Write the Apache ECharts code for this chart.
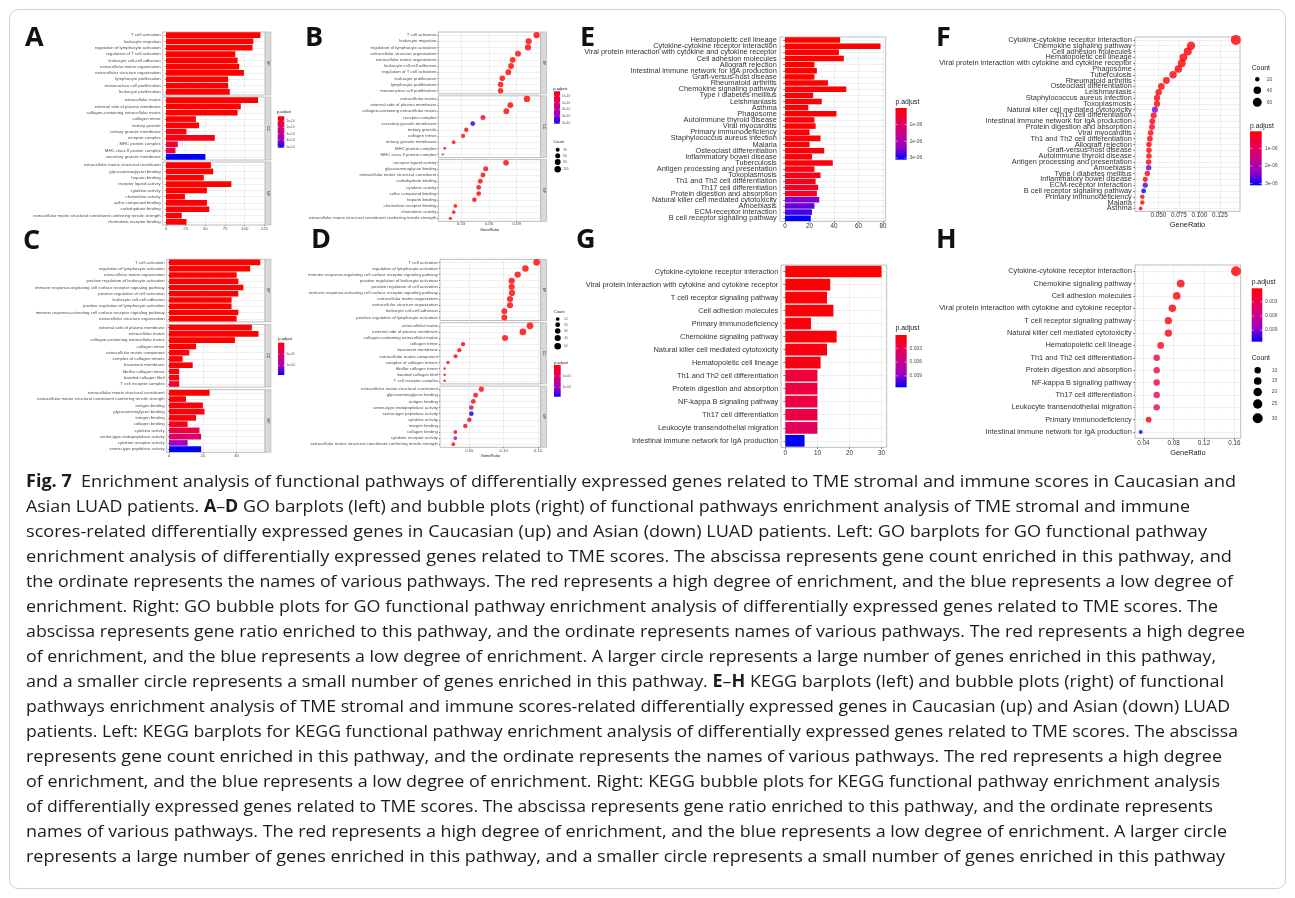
<!DOCTYPE html>
<html>
<head>
<meta charset="utf-8">
<title>Fig. 7 enrichment analysis</title>
<script src="https://cdn.jsdelivr.net/npm/echarts@6/dist/echarts.min.js"></script>
<style>
  html, body { margin: 0; padding: 0; background: #fff; width: 1295px; height: 898px; overflow: hidden; }
  #frame { position: absolute; left: 9px; top: 9px; width: 1277px; height: 880px; border: 1px solid #d2d2d2; border-radius: 9px; box-sizing: border-box; }
  #chart { position: absolute; left: 0; top: 0; width: 1295px; height: 470px; }
  #caption { position: absolute; left: 26px; top: 468px; font-family: "Open Sans", sans-serif; font-size: 17px; line-height: 25px; color: #1e1b1c; }
  #caption div { white-space: nowrap; height: 25px; }
  #caption span { display: inline-block; transform-origin: 0 50%; }
</style>
</head>
<body>
<div id="frame"></div>
<div id="chart"></div>
<div id="caption"></div>
<script>
var FONT = '"Liberation Sans", Arial, Helvetica, sans-serif';
// red -> blue, as ggplot interpolates it
var GRAD = ['#ff0000', '#e80050', '#ca0089', '#9a00c3', '#0000ff'];

// ---------- A: GO barplot, Caucasian ----------
var aBP = ['T cell activation', 'leukocyte migration', 'regulation of lymphocyte activation', 'regulation of T cell activation', 'leukocyte cell-cell adhesion', 'extracellular matrix organization', 'extracellular structure organization', 'lymphocyte proliferation', 'mononuclear cell proliferation', 'leukocyte proliferation'];
var aBPCount = [120, 111, 110, 88, 91, 93, 99, 79, 79, 81];
var aBPPadj = [0.27e-10, 0.27e-10, 0.27e-10, 0.28e-10, 0.28e-10, 0.28e-10, 0.28e-10, 0.29e-10, 0.29e-10, 0.29e-10];
var aCC = ['extracellular matrix', 'external side of plasma membrane', 'collagen-containing extracellular matrix', 'collagen trimer', 'tertiary granule', 'tertiary granule membrane', 'receptor complex', 'MHC protein complex', 'MHC class II protein complex', 'secretory granule membrane'];
var aCCCount = [117, 95, 91, 38, 42, 26, 62, 15, 12, 50];
var aCCPadj = [0.27e-10, 0.27e-10, 0.28e-10, 0.3e-10, 0.32e-10, 0.4e-10, 0.6e-10, 1.0e-10, 1.3e-10, 5.16e-10];
var aMF = ['extracellular matrix structural constituent', 'glycosaminoglycan binding', 'heparin binding', 'receptor ligand activity', 'cytokine activity', 'chemokine activity', 'sulfur compound binding', 'carbohydrate binding', 'extracellular matrix structural constituent conferring tensile strength', 'chemokine receptor binding'];
var aMFCount = [57, 60, 48, 83, 52, 24, 52, 55, 20, 26];
var aMFPadj = [0.28e-10, 0.28e-10, 0.29e-10, 0.29e-10, 0.3e-10, 0.3e-10, 0.31e-10, 0.31e-10, 0.32e-10, 0.33e-10];
var aTicks = [0, 25, 50, 75, 100, 125];

// ---------- B: GO bubble plot, Caucasian ----------
var bBP = ['T cell activation', 'leukocyte migration', 'regulation of lymphocyte activation', 'extracellular structure organization', 'extracellular matrix organization', 'leukocyte cell-cell adhesion', 'regulation of T cell activation', 'leukocyte proliferation', 'lymphocyte proliferation', 'mononuclear cell proliferation'];
var bBPRatio = [0.1115, 0.1029, 0.1022, 0.0914, 0.0857, 0.0839, 0.0810, 0.0745, 0.0727, 0.0727];
var bCC = ['extracellular matrix', 'external side of plasma membrane', 'collagen-containing extracellular matrix', 'receptor complex', 'secretory granule membrane', 'tertiary granule', 'collagen trimer', 'tertiary granule membrane', 'MHC protein complex', 'MHC class II protein complex'];
var bCCRatio = [0.1011, 0.0832, 0.0788, 0.0537, 0.0426, 0.0357, 0.0322, 0.0221, 0.0124, 0.0103];
var bMF = ['receptor ligand activity', 'glycosaminoglycan binding', 'extracellular matrix structural constituent', 'carbohydrate binding', 'cytokine activity', 'sulfur compound binding', 'heparin binding', 'chemokine receptor binding', 'chemokine activity', 'extracellular matrix structural constituent conferring tensile strength'];
var bMFRatio = [0.0785, 0.0566, 0.0537, 0.0508, 0.0490, 0.0490, 0.0444, 0.0239, 0.0221, 0.0185];
var bTicks = [0.03, 0.06, 0.09];
var bCountKeys = [30, 60, 90, 120];

// ---------- C: GO barplot, Asian ----------
var cBP = ['T cell activation', 'regulation of lymphocyte activation', 'extracellular matrix organization', 'positive regulation of leukocyte activation', 'immune response-regulating cell surface receptor signaling pathway', 'positive regulation of cell activation', 'leukocyte cell-cell adhesion', 'positive regulation of lymphocyte activation', 'immune response-activating cell surface receptor signaling pathway', 'extracellular structure organization'];
var cBPCount = [54, 48, 40, 41, 44, 41, 37, 37, 41, 40];
var cBPPadj = [2.0e-6, 2.0e-6, 2.1e-6, 2.1e-6, 2.1e-6, 2.2e-6, 2.2e-6, 2.3e-6, 2.3e-6, 2.4e-6];
var cCC = ['external side of plasma membrane', 'extracellular matrix', 'collagen-containing extracellular matrix', 'collagen trimer', 'extracellular matrix component', 'complex of collagen trimers', 'basement membrane', 'fibrillar collagen trimer', 'banded collagen fibril', 'T cell receptor complex'];
var cCCCount = [49, 53, 39, 16, 12, 8, 14, 6, 6, 6];
var cCCPadj = [2.0e-6, 2.0e-6, 2.2e-6, 3e-6, 4e-6, 6e-6, 5e-6, 8e-6, 8e-6, 2.3e-5];
var cMF = ['extracellular matrix structural constituent', 'extracellular matrix structural constituent conferring tensile strength', 'antigen binding', 'glycosaminoglycan binding', 'integrin binding', 'collagen binding', 'cytokine activity', 'serine-type endopeptidase activity', 'cytokine receptor activity', 'serine-type peptidase activity'];
var cMFCount = [24, 10, 20, 21, 16, 11, 18, 19, 11, 19];
var cMFPadj = [2.5e-6, 4e-6, 5e-6, 5e-6, 9e-6, 1.5e-5, 3e-5, 4.8e-5, 1.0e-4, 1.407e-4];
var cTicks = [0, 20, 40];

// ---------- D: GO bubble plot, Asian ----------
var dBP = ['T cell activation', 'regulation of lymphocyte activation', 'immune response-regulating cell surface receptor signaling pathway', 'positive regulation of leukocyte activation', 'positive regulation of cell activation', 'immune response-activating cell surface receptor signaling pathway', 'extracellular matrix organization', 'extracellular structure organization', 'leukocyte cell-cell adhesion', 'positive regulation of lymphocyte activation'];
var dBPRatio = [0.148, 0.1316, 0.1204, 0.1117, 0.1117, 0.1121, 0.1092, 0.1092, 0.101, 0.101];
var dCC = ['extracellular matrix', 'external side of plasma membrane', 'collagen-containing extracellular matrix', 'collagen trimer', 'basement membrane', 'extracellular matrix component', 'complex of collagen trimers', 'fibrillar collagen trimer', 'banded collagen fibril', 'T cell receptor complex'];
var dCCRatio = [0.1383, 0.128, 0.102, 0.0408, 0.0354, 0.030, 0.0189, 0.0141, 0.0141, 0.0141];
var dMF = ['extracellular matrix structural constituent', 'glycosaminoglycan binding', 'antigen binding', 'serine-type endopeptidase activity', 'serine-type peptidase activity', 'cytokine activity', 'integrin binding', 'collagen binding', 'cytokine receptor activity', 'extracellular matrix structural constituent conferring tensile strength'];
var dMFRatio = [0.0675, 0.0592, 0.0558, 0.0529, 0.0529, 0.05, 0.0442, 0.0296, 0.0296, 0.0267];
var dTicks = [0.05, 0.10, 0.15];
var dCountKeys = [10, 20, 30, 40, 50];

// ---------- E: KEGG barplot, Caucasian ----------
var eCats = ['Hematopoietic cell lineage', 'Cytokine-cytokine receptor interaction', 'Viral protein interaction with cytokine and cytokine receptor', 'Cell adhesion molecules', 'Allograft rejection', 'Intestinal immune network for IgA production', 'Graft-versus-host disease', 'Rheumatoid arthritis', 'Chemokine signaling pathway', 'Type I diabetes mellitus', 'Leishmaniasis', 'Asthma', 'Phagosome', 'Autoimmune thyroid disease', 'Viral myocarditis', 'Primary immunodeficiency', 'Staphylococcus aureus infection', 'Malaria', 'Osteoclast differentiation', 'Inflammatory bowel disease', 'Tuberculosis', 'Antigen processing and presentation', 'Toxoplasmosis', 'Th1 and Th2 cell differentiation', 'Th17 cell differentiation', 'Protein digestion and absorption', 'Natural killer cell mediated cytotoxicity', 'Amoebiasis', 'ECM-receptor interaction', 'B cell receptor signaling pathway'];
var eCount = [45, 78, 44, 48, 24, 26, 24, 35, 50, 23, 30, 19, 42, 24, 25, 20, 29, 20, 32, 22, 39, 24, 29, 25, 27, 26, 28, 24, 22, 21];
var ePadj = [0.02e-6, 0.02e-6, 0.02e-6, 0.02e-6, 0.03e-6, 0.03e-6, 0.03e-6, 0.04e-6, 0.04e-6, 0.05e-6, 0.05e-6, 0.06e-6, 0.06e-6, 0.07e-6, 0.08e-6, 0.09e-6, 0.1e-6, 0.11e-6, 0.12e-6, 0.13e-6, 0.14e-6, 0.18e-6, 0.22e-6, 0.26e-6, 0.3e-6, 0.35e-6, 2.45e-6, 2.6e-6, 2.75e-6, 3.1e-6];
var eTicks = [0, 20, 40, 60, 80];

// ---------- F: KEGG bubble plot, Caucasian ----------
var fCats = ['Cytokine-cytokine receptor interaction', 'Chemokine signaling pathway', 'Cell adhesion molecules', 'Hematopoietic cell lineage', 'Viral protein interaction with cytokine and cytokine receptor', 'Phagosome', 'Tuberculosis', 'Rheumatoid arthritis', 'Osteoclast differentiation', 'Leishmaniasis', 'Staphylococcus aureus infection', 'Toxoplasmosis', 'Natural killer cell mediated cytotoxicity', 'Th17 cell differentiation', 'Intestinal immune network for IgA production', 'Protein digestion and absorption', 'Viral myocarditis', 'Th1 and Th2 cell differentiation', 'Allograft rejection', 'Graft-versus-host disease', 'Autoimmune thyroid disease', 'Antigen processing and presentation', 'Amoebiasis', 'Type I diabetes mellitus', 'Inflammatory bowel disease', 'ECM-receptor interaction', 'B cell receptor signaling pathway', 'Primary immunodeficiency', 'Malaria', 'Asthma'];
var fRatio = [0.1443, 0.0898, 0.0858, 0.0805, 0.0785, 0.0744, 0.0679, 0.0598, 0.0537, 0.0504, 0.0484, 0.0484, 0.0459, 0.0443, 0.0427, 0.0423, 0.0407, 0.0398, 0.0386, 0.0386, 0.0386, 0.0382, 0.0382, 0.0366, 0.0341, 0.0341, 0.0321, 0.0305, 0.0305, 0.0285];
var fTicks = [0.05, 0.075, 0.1, 0.125];
var fCountKeys = [20, 40, 60];

// ---------- G: KEGG barplot, Asian ----------
var gCats = ['Cytokine-cytokine receptor interaction', 'Viral protein interaction with cytokine and cytokine receptor', 'T cell receptor signaling pathway', 'Cell adhesion molecules', 'Primary immunodeficiency', 'Chemokine signaling pathway', 'Natural killer cell mediated cytotoxicity', 'Hematopoietic cell lineage', 'Th1 and Th2 cell differentiation', 'Protein digestion and absorption', 'NF-kappa B signaling pathway', 'Th17 cell differentiation', 'Leukocyte transendothelial migration', 'Intestinal immune network for IgA production'];
var gCount = [30, 14, 13, 15, 8, 16, 13, 11, 10, 10, 10, 10, 10, 6];
var gPadj = [0.0001, 0.0003, 0.0004, 0.0004, 0.0005, 0.0006, 0.0007, 0.0009, 0.0022, 0.0023, 0.0024, 0.0026, 0.0034, 0.0115];
var gTicks = [0, 10, 20, 30];

// ---------- H: KEGG bubble plot, Asian ----------
var hCats = ['Cytokine-cytokine receptor interaction', 'Chemokine signaling pathway', 'Cell adhesion molecules', 'Viral protein interaction with cytokine and cytokine receptor', 'T cell receptor signaling pathway', 'Natural killer cell mediated cytotoxicity', 'Hematopoietic cell lineage', 'Th1 and Th2 cell differentiation', 'Protein digestion and absorption', 'NF-kappa B signaling pathway', 'Th17 cell differentiation', 'Leukocyte transendothelial migration', 'Primary immunodeficiency', 'Intestinal immune network for IgA production'];
var hRatio = [0.1622, 0.0893, 0.084, 0.0783, 0.073, 0.073, 0.0629, 0.0576, 0.0576, 0.0576, 0.0576, 0.0576, 0.047, 0.0365];
var hTicks = [0.04, 0.08, 0.12, 0.16];
var hCountKeys = [10, 15, 20, 25, 30];

var captionLines = [
  '<b>Fig. 7</b>&nbsp; Enrichment analysis of functional pathways of differentially expressed genes related to TME stromal and immune scores in Caucasian and',
  'Asian LUAD patients. <b>A</b>–<b>D</b> GO barplots (left) and bubble plots (right) of functional pathways enrichment analysis of TME stromal and immune',
  'scores-related differentially expressed genes in Caucasian (up) and Asian (down) LUAD patients. Left: GO barplots for GO functional pathway',
  'enrichment analysis of differentially expressed genes related to TME scores. The abscissa represents gene count enriched in this pathway, and',
  'the ordinate represents the names of various pathways. The red represents a high degree of enrichment, and the blue represents a low degree of',
  'enrichment. Right: GO bubble plots for GO functional pathway enrichment analysis of differentially expressed genes related to TME scores. The',
  'abscissa represents gene ratio enriched to this pathway, and the ordinate represents names of various pathways. The red represents a high degree',
  'of enrichment, and the blue represents a low degree of enrichment. A larger circle represents a large number of genes enriched in this pathway,',
  'and a smaller circle represents a small number of genes enriched in this pathway. <b>E</b>–<b>H</b> KEGG barplots (left) and bubble plots (right) of functional',
  'pathways enrichment analysis of TME stromal and immune scores-related differentially expressed genes in Caucasian (up) and Asian (down) LUAD',
  'patients. Left: KEGG barplots for KEGG functional pathway enrichment analysis of differentially expressed genes related to TME scores. The abscissa',
  'represents gene count enriched in this pathway, and the ordinate represents the names of various pathways. The red represents a high degree',
  'of enrichment, and the blue represents a low degree of enrichment. Right: KEGG bubble plots for KEGG functional pathway enrichment analysis',
  'of differentially expressed genes related to TME scores. The abscissa represents gene ratio enriched to this pathway, and the ordinate represents',
  'names of various pathways. The red represents a high degree of enrichment, and the blue represents a low degree of enrichment. A larger circle',
  'represents a large number of genes enriched in this pathway, and a smaller circle represents a small number of genes enriched in this pathway'
];
// where each caption line ends in the reference (px)
var captionEnds = [1236, 1190, 1207, 1232, 1233, 1218, 1245, 1216, 1224, 1230, 1238, 1222, 1220, 1213, 1227, 1225];

// look up a value for each name from another list
function pick(names, srcNames, srcVals) {
  return names.map(function (n) { return srcVals[srcNames.indexOf(n)]; });
}

// ggplot scale_size: diameter linear in sqrt of rescaled count
function sizeScale(cmin, cmax, dmin, dmax) {
  return function (c) {
    return dmin + (dmax - dmin) * Math.sqrt(Math.max(0, (c - cmin) / (cmax - cmin)));
  };
}

var option = {
  animation: false,
  textStyle: { fontFamily: FONT },
  grid: [], xAxis: [], yAxis: [], series: [], visualMap: [], graphic: []
};

function txt(text, x, y, size, color, align, extra) {
  var el = {
    type: 'text', silent: true, x: x, y: y,
    style: { text: text, fontSize: size, fontFamily: FONT, fill: color,
      textAlign: align, textVerticalAlign: 'middle', align: align, verticalAlign: 'middle' }
  };
  if (extra) { for (var k in extra) { el[k] = extra[k]; } }
  return el;
}

function letter(ch, x, y) {
  var el = txt(ch, x, y, 27, '#111', 'left');
  el.style.fontFamily = '"Open Sans", sans-serif';
  el.style.fontWeight = 'bold';
  option.graphic.push(el);
}

function buildPanel(p) {
  var sIdx = [];
  p.facets.forEach(function (f, k) {
    var last = k === p.facets.length - 1;
    var top = p.tops[k];
    var gi = option.grid.length;
    option.grid.push({ left: p.left, top: top, width: p.width, height: p.height, show: true,
      borderColor: '#ababab', borderWidth: 0.8, backgroundColor: 'transparent',
      containLabel: false, outerBoundsMode: 'none' });

    var xi = option.xAxis.length;
    var major = {
      type: 'value', gridIndex: gi, min: p.xMin, max: p.xMax, position: 'bottom',
      axisLine: { show: false },
      axisTick: { show: last, length: p.tickLen, lineStyle: { color: '#333', width: 0.6 }, customValues: p.ticks },
      axisLabel: { show: last, customValues: p.ticks, fontSize: p.tickFont, color: p.textColor, margin: p.tickMargin },
      splitLine: { show: true, lineStyle: { color: '#e4e4e4', width: 0.6 } }
    };
    if (p.digits) { major.axisLabel.formatter = function (v) { return v.toFixed(p.digits); }; }
    if (last && p.xTitle) {
      major.name = p.xTitle; major.nameLocation = 'middle'; major.nameGap = p.xTitleGap;
      major.nameMoveOverlap = false;
      major.nameTextStyle = { fontSize: p.xTitleFont, color: '#1a1a1a' };
    }
    option.xAxis.push(major);
    // minor vertical grid lines
    option.xAxis.push({ type: 'value', gridIndex: gi, min: p.xMin, max: p.xMax, position: 'top',
      axisLine: { show: false }, axisTick: { show: false, customValues: p.minor }, axisLabel: { show: false },
      splitLine: { show: true, lineStyle: { color: '#f2f2f2', width: 0.4 } } });

    var yi = option.yAxis.length;
    option.yAxis.push({ type: 'category', gridIndex: gi, data: f.cats, inverse: true, position: 'left',
      axisLine: { show: false },
      axisTick: { show: true, alignWithLabel: true, length: p.tickLen, lineStyle: { color: '#333', width: 0.6 } },
      axisLabel: { interval: 0, fontSize: p.labelFont, color: p.textColor, margin: p.labelMargin },
      splitLine: { show: false } });
    // horizontal grid lines through each category centre
    option.yAxis.push({ type: 'value', gridIndex: gi, min: 0.5, max: f.cats.length + 0.5, inverse: true, position: 'right',
      axisLine: { show: false },
      axisTick: { show: false, customValues: f.cats.map(function (c, i) { return i + 1; }) },
      axisLabel: { show: false },
      splitLine: { show: true, lineStyle: { color: '#e4e4e4', width: 0.6 } } });

    sIdx.push(option.series.length);
    if (p.kind === 'bar') {
      option.series.push({ type: 'bar', xAxisIndex: xi, yAxisIndex: yi, silent: true, barCategoryGap: '10%', z: 3,
        encode: { x: 0, y: 1 },
        data: f.cats.map(function (c, i) { return [f.x[i], i, f.padj[i]]; }) });
    } else {
      option.series.push({ type: 'scatter', xAxisIndex: xi, yAxisIndex: yi, silent: true, z: 3,
        encode: { x: 0, y: 1 },
        symbolSize: function (v) { return p.size(v[3]); },
        data: f.cats.map(function (c, i) { return [f.x[i], i, f.padj[i], f.count[i]]; }) });
    }

    if (p.strips) {
      var sx = p.left + p.width;
      option.graphic.push({ type: 'rect', silent: true, shape: { x: sx, y: top, width: p.stripW, height: p.height },
        style: { fill: '#d9d9d9', stroke: '#ababab', lineWidth: 0.6 } });
      option.graphic.push(txt(p.strips[k], sx + p.stripW / 2, top + p.height / 2, 3.4, '#1a1a1a', 'center',
        { rotation: -Math.PI / 2 }));
    }
  });
  option.visualMap.push({ type: 'continuous', show: false, min: p.lo, max: p.hi, dimension: 2,
    seriesIndex: sIdx, inRange: { color: GRAD } });
}

function colorbar(c) {
  var g = option.graphic;
  g.push(txt('p.adjust', c.tx, c.ty, c.titleFont, '#1a1a1a', 'left'));
  g.push({ type: 'rect', silent: true, shape: { x: c.x, y: c.y, width: c.w, height: c.h },
    style: { fill: { type: 'linear', x: 0, y: 0, x2: 0, y2: 1,
      colorStops: GRAD.map(function (col, i) { return { offset: i / (GRAD.length - 1), color: col }; }) } } });
  c.ticks.forEach(function (v, i) {
    var y = c.y + (v - c.lo) / (c.hi - c.lo) * c.h;
    var t = c.w / 5;
    g.push({ type: 'line', silent: true, shape: { x1: c.x, y1: y, x2: c.x + t, y2: y }, style: { stroke: '#fff', lineWidth: 0.5 } });
    g.push({ type: 'line', silent: true, shape: { x1: c.x + c.w - t, y1: y, x2: c.x + c.w, y2: y }, style: { stroke: '#fff', lineWidth: 0.5 } });
    g.push(txt(c.labels[i], c.lx, y, c.labelFont, '#4d4d4d', 'left'));
  });
}

function sizeLegend(s) {
  var g = option.graphic;
  g.push(txt('Count', s.tx, s.ty, s.titleFont, '#1a1a1a', 'left'));
  s.values.forEach(function (v, i) {
    g.push({ type: 'circle', silent: true, shape: { cx: s.x, cy: s.ys[i], r: s.size(v) / 2 }, style: { fill: '#000' } });
    g.push(txt(String(v), s.lx, s.ys[i], s.labelFont, '#4d4d4d', 'left'));
  });
}

// ---------------- panels ----------------
var small = { labelFont: 4.3, tickFont: 4.3, tickLen: 1, labelMargin: 2, textColor: '#4d4d4d', stripW: 5.9 };
function merge(a, b) { var o = {}, k; for (k in a) { o[k] = a[k]; } for (k in b) { o[k] = b[k]; } return o; }

// A
buildPanel(merge(small, {
  kind: 'bar', left: 162.7, width: 102.3, tops: [32, 97, 162], height: 63, strips: ['BP', 'CC', 'MF'],
  facets: [{ cats: aBP, x: aBPCount, padj: aBPPadj }, { cats: aCC, x: aCCCount, padj: aCCPadj }, { cats: aMF, x: aMFCount, padj: aMFPadj }],
  xMin: -4.2, xMax: 125.8, ticks: aTicks, minor: [12.5, 37.5, 62.5, 87.5, 112.5], tickMargin: 1.5,
  lo: 0.27e-10, hi: 5.16e-10
}));
colorbar({ tx: 277, ty: 112, x: 277.7, y: 116.3, w: 6.6, h: 31.4, lo: 0.27e-10, hi: 5.16e-10,
  ticks: [1e-10, 2e-10, 3e-10, 4e-10, 5e-10], labels: ['1e-10', '2e-10', '3e-10', '4e-10', '5e-10'],
  lx: 286.5, titleFont: 4, labelFont: 3.2 });

// B
var bSize = sizeScale(12, 120, 2.2, 6.4);
buildPanel(merge(small, {
  kind: 'dot', left: 438.3, width: 102.4, tops: [32, 95.8, 159.6], height: 61.8, strips: ['BP', 'CC', 'MF'],
  facets: [
    { cats: bBP, x: bBPRatio, padj: pick(bBP, aBP, aBPPadj), count: pick(bBP, aBP, aBPCount) },
    { cats: bCC, x: bCCRatio, padj: pick(bCC, aCC, aCCPadj), count: pick(bCC, aCC, aCCCount) },
    { cats: bMF, x: bMFRatio, padj: pick(bMF, aMF, aMFPadj), count: pick(bMF, aMF, aMFCount) }],
  xMin: 0.0055, xMax: 0.1159, ticks: bTicks, minor: [0.015, 0.045, 0.075, 0.105], digits: 2, tickMargin: 0.8,
  xTitle: 'GeneRatio', xTitleGap: 6.3, xTitleFont: 4, size: bSize, lo: 0.27e-10, hi: 5.16e-10
}));
colorbar({ tx: 553.3, ty: 88.7, x: 554, y: 91.3, w: 6, h: 32.4, lo: 0.27e-10, hi: 5.16e-10,
  ticks: [1e-10, 2e-10, 3e-10, 4e-10, 5e-10], labels: ['1e-10', '2e-10', '3e-10', '4e-10', '5e-10'],
  lx: 562, titleFont: 4, labelFont: 3.2 });
sizeLegend({ tx: 553.3, ty: 142, x: 557.7, ys: [149.7, 155.7, 162, 169.3], values: bCountKeys, size: bSize,
  lx: 563.3, titleFont: 4, labelFont: 3.2 });

// C
buildPanel(merge(small, {
  kind: 'bar', left: 166.7, width: 98.3, tops: [259.3, 324.5, 389.7], height: 62.6, strips: ['BP', 'CC', 'MF'],
  facets: [{ cats: cBP, x: cBPCount, padj: cBPPadj }, { cats: cCC, x: cCCCount, padj: cCCPadj }, { cats: cMF, x: cMFCount, padj: cMFPadj }],
  xMin: -1.4, xMax: 56.8, ticks: cTicks, minor: [10, 30, 50], tickMargin: 1.5,
  lo: 2e-6, hi: 1.407e-4
}));
colorbar({ tx: 278.3, ty: 339, x: 278, y: 342.7, w: 6.3, h: 32.3, lo: 2e-6, hi: 1.407e-4,
  ticks: [5e-5, 1e-4], labels: ['5e-05', '1e-04'], lx: 286.5, titleFont: 4, labelFont: 3.2 });

// D
var dSize = sizeScale(6, 54, 2.5, 6.8);
buildPanel(merge(small, {
  kind: 'dot', left: 440, width: 100.7, tops: [259.3, 322.7, 386.1], height: 61.2, strips: ['BP', 'CC', 'MF'],
  facets: [
    { cats: dBP, x: dBPRatio, padj: pick(dBP, cBP, cBPPadj), count: pick(dBP, cBP, cBPCount) },
    { cats: dCC, x: dCCRatio, padj: pick(dCC, cCC, cCCPadj), count: pick(dCC, cCC, cCCCount) },
    { cats: dMF, x: dMFRatio, padj: pick(dMF, cMF, cMFPadj), count: pick(dMF, cMF, cMFCount) }],
  xMin: 0.0073, xMax: 0.1539, ticks: dTicks, minor: [0.025, 0.075, 0.125], digits: 2, tickMargin: 1.2,
  xTitle: 'GeneRatio', xTitleGap: 6.7, xTitleFont: 4, size: dSize, lo: 2e-6, hi: 1.407e-4
}));
sizeLegend({ tx: 554, ty: 311.7, x: 557.7, ys: [319, 324.7, 331, 338, 346.3], values: dCountKeys, size: dSize,
  lx: 564, titleFont: 4, labelFont: 3.2 });
colorbar({ tx: 554, ty: 362.7, x: 554, y: 365, w: 6.7, h: 31.7, lo: 2e-6, hi: 1.407e-4,
  ticks: [5e-5, 1e-4], labels: ['5e-05', '1e-04'], lx: 562.5, titleFont: 4, labelFont: 3.2 });

var big = { labelFont: 7.4, tickFont: 6.3, tickLen: 1.8, labelMargin: 3.2, textColor: '#333' };

// E
buildPanel(merge(big, {
  kind: 'bar', left: 780, width: 105.7, tops: [37], height: 184.3,
  facets: [{ cats: eCats, x: eCount, padj: ePadj }],
  xMin: -4.1, xMax: 82.2, ticks: eTicks, minor: [10, 30, 50, 70], tickMargin: 1.5,
  lo: 0.02e-6, hi: 3.1e-6
}));
colorbar({ tx: 895.5, ty: 102.5, x: 895.5, y: 108, w: 11.2, h: 51.7, lo: 0.02e-6, hi: 3.1e-6,
  ticks: [1e-6, 2e-6, 3e-6], labels: ['1e-06', '2e-06', '3e-06'], lx: 909.5, titleFont: 6.8, labelFont: 5 });

// F
var fSize = sizeScale(19, 78, 3.7, 10);
buildPanel(merge(big, {
  kind: 'dot', left: 1135, width: 105, tops: [37], height: 174.3,
  facets: [{ cats: fCats, x: fRatio, padj: pick(fCats, eCats, ePadj), count: pick(fCats, eCats, eCount) }],
  xMin: 0.0216, xMax: 0.1494, ticks: fTicks, minor: [0.0375, 0.0625, 0.0875, 0.1125, 0.1375], digits: 3, tickMargin: 1.2,
  xTitle: 'GeneRatio', xTitleGap: 10.3, xTitleFont: 7.4, size: fSize, lo: 0.02e-6, hi: 3.1e-6
}));
sizeLegend({ tx: 1251.7, ty: 67.7, x: 1257.3, ys: [79.3, 90.3, 102.3], values: fCountKeys, size: fSize,
  lx: 1266.7, titleFont: 6.8, labelFont: 5 });
colorbar({ tx: 1250, ty: 125.7, x: 1250, y: 131.3, w: 11.7, h: 54, lo: 0.02e-6, hi: 3.1e-6,
  ticks: [1e-6, 2e-6, 3e-6], labels: ['1e-06', '2e-06', '3e-06'], lx: 1265, titleFont: 6.8, labelFont: 5 });

// G
buildPanel(merge(big, {
  kind: 'bar', left: 781, width: 105.7, tops: [265], height: 182.3,
  facets: [{ cats: gCats, x: gCount, padj: gPadj }],
  xMin: -1.34, xMax: 31.6, ticks: gTicks, minor: [5, 15, 25], tickMargin: 2.5, labelMargin: 2.7,
  lo: 0.0001, hi: 0.0115
}));
colorbar({ tx: 895.5, ty: 328.3, x: 895.5, y: 335, w: 11.2, h: 52.3, lo: 0.0001, hi: 0.0115,
  ticks: [0.003, 0.006, 0.009], labels: ['0.003', '0.006', '0.009'], lx: 909.5, titleFont: 6.8, labelFont: 5 });

// H
var hSize = sizeScale(6, 30, 4, 10);
buildPanel(merge(big, {
  kind: 'dot', left: 1135, width: 105.7, tops: [265], height: 173.3,
  facets: [{ cats: hCats, x: hRatio, padj: pick(hCats, gCats, gPadj), count: pick(hCats, gCats, gCount) }],
  xMin: 0.029, xMax: 0.1684, ticks: hTicks, minor: [0.06, 0.1, 0.14], digits: 2, tickMargin: 1.8,
  xTitle: 'GeneRatio', xTitleGap: 11.3, xTitleFont: 7.4, size: hSize, lo: 0.0001, hi: 0.0115
}));
colorbar({ tx: 1251.7, ty: 281.7, x: 1251.7, y: 288.3, w: 10.6, h: 53.4, lo: 0.0001, hi: 0.0115,
  ticks: [0.003, 0.006, 0.009], labels: ['0.003', '0.006', '0.009'], lx: 1265, titleFont: 6.8, labelFont: 5 });
sizeLegend({ tx: 1251.7, ty: 358.3, x: 1257.7, ys: [370.3, 381, 392, 404, 418.3], values: hCountKeys, size: hSize,
  lx: 1271.7, titleFont: 6.8, labelFont: 5 });

// panel letters
letter('A', 25, 38);
letter('B', 305, 38);
letter('C', 23, 241);
letter('D', 311, 240.5);
letter('E', 580, 38.5);
letter('F', 936, 38.5);
letter('G', 576, 240.5);
letter('H', 936, 240.5);

var chart = echarts.init(document.getElementById('chart'), null, { renderer: 'canvas' });
chart.setOption(option);

// caption: each line squeezed to the width it has in the reference
var cap = document.getElementById('caption');
captionLines.forEach(function (t, i) {
  var d = document.createElement('div');
  var s = document.createElement('span');
  s.innerHTML = t;
  d.appendChild(s);
  cap.appendChild(d);
  var w = s.getBoundingClientRect().width;
  s.style.transform = 'scaleX(' + ((captionEnds[i] - 26) / w) + ')';
});
</script>
</body>
</html>
